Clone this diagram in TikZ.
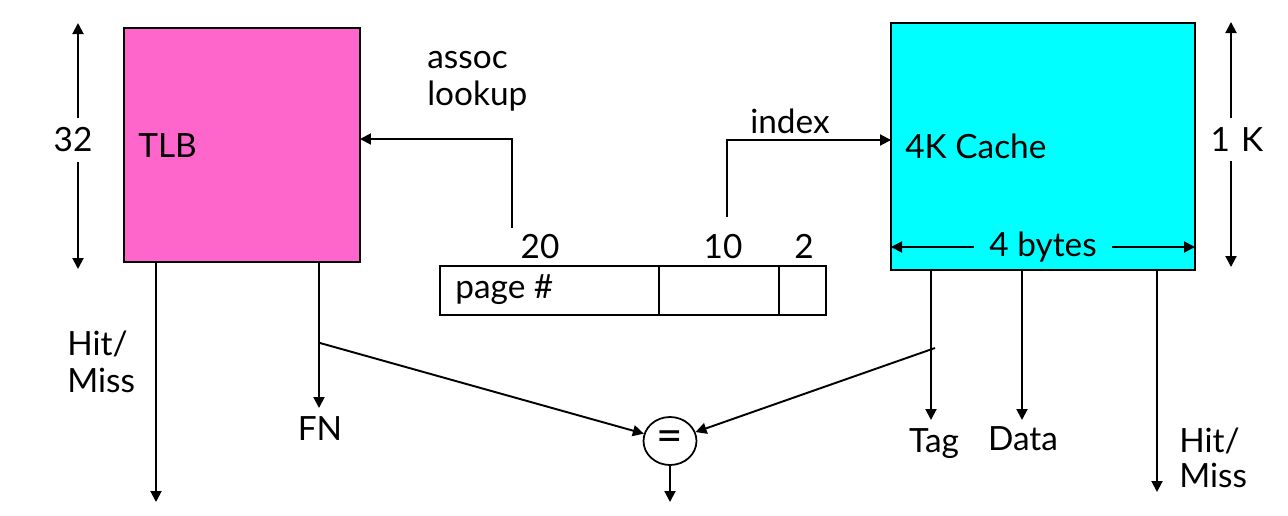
\documentclass[tikz,border=0pt]{standalone}
\usepackage{fontspec}
\setmainfont{Lato}
\usetikzlibrary{positioning,arrows.meta,shapes.geometric}

\definecolor{tlbpink}{HTML}{FF66CC}
\definecolor{cachecyan}{HTML}{00FFFF}

\begin{document}
\begin{tikzpicture}[
  x=0.02cm, y=-0.02cm,
  txt/.style={font=\fontsize{19}{23}\selectfont, inner sep=0pt},
  blk/.style={draw, rectangle, line width=1pt, inner sep=0pt, outer sep=0pt},
  wire/.style={line width=1.1pt},
  arr/.style={wire, -{Triangle[length=0.22cm, width=0.22cm]}},
  dimarr/.style={wire, {Triangle[length=0.22cm, width=0.22cm]}-{Triangle[length=0.22cm, width=0.22cm]}}
]
\useasboundingbox (0,0) rectangle (1288,515);

% TLB and its size
\node[blk, fill=tlbpink, minimum width=4.72cm, minimum height=4.68cm] (tlb) at (242,145) {};
\node[txt, anchor=base west] (tlbname) at (138,157) {TLB};
\coordinate (tlbtop) at (78,23);
\coordinate (tlbbot) at (78,269);
\draw[dimarr] (tlbtop) -- (tlbbot)
  node[txt, midway, fill=white, inner xsep=0.1cm, inner ysep=0.2cm, xshift=-0.1cm, yshift=0.12cm] (tlbsize) {32};

% virtual address
\node[blk, minimum width=4.38cm, minimum height=0.98cm] (pgnum) at (549.5,290.5) {};
\node[blk, minimum width=2.4cm, minimum height=0.98cm, right=0pt of pgnum] (idxbits) {};
\node[blk, minimum width=0.94cm, minimum height=0.98cm, right=0pt of idxbits] (offbits) {};
\node[txt, anchor=base west] (pgtxt) at (455,298) {page \#};
\node[txt, anchor=base] (w20) at (540,258) {20};
\node[txt, anchor=base] (w10) at (723,258) {10};
\node[txt, anchor=base] (w2) at (804,258) {2};

% lookup into TLB
\coordinate (lkfoot) at (512,228);
\coordinate (lkbend) at (512,139);
\draw[arr] (lkfoot) -- (lkbend) -- (tlb.east |- lkbend);
\node[txt, anchor=base west] (assoc) at (427,68) {assoc};
\node[txt, anchor=base west] (lookup) at (427,105) {lookup};

% cache and its size
\node[blk, fill=cachecyan, minimum width=6.08cm, minimum height=4.94cm] (cache) at (1043,146.5) {};
\node[txt, anchor=base west] (cachename) at (905,158) {4K Cache};
\coordinate (bytesl) at (891,247);
\coordinate (bytesr) at (1195,247);
\draw[dimarr] (bytesl) -- (bytesr)
  node[txt, midway, fill=cachecyan, inner xsep=0.3cm, inner ysep=0.05cm] (cachewidth) {4 bytes};
\coordinate (cachetop) at (1231,22);
\coordinate (cachebot) at (1231,267);
\draw[dimarr] (cachetop) -- (cachebot)
  node[txt, midway, fill=white, inner xsep=0.1cm, inner ysep=0.2cm, xshift=0.12cm, yshift=0.1cm] (cachesize) {1\,\,K};

% index into cache
\coordinate (ixfoot) at (727,217);
\coordinate (ixbend) at (727,140);
\draw[arr] (ixfoot) -- (ixbend) -- (cache.west |- ixbend);
\node[txt, anchor=base] (ixtxt) at (790,133) {index};

% TLB outputs
\coordinate (tlbhit) at (156,502);
\draw[arr] (tlb.south -| tlbhit) -- (tlbhit);
\node[txt, anchor=base west] (hitA) at (67,355) {Hit/};
\node[txt, anchor=base west] (missA) at (67,392) {Miss};
\coordinate (fnend) at (319,408);
\draw[arr] (tlb.south -| fnend) -- (fnend);
\node[txt, anchor=base] (fntxt) at (320,440) {FN};

% compare
\node[draw, ellipse, line width=1pt, minimum width=1.06cm, minimum height=0.96cm, inner sep=0pt,
  font=\fontsize{26}{26}\selectfont] (cmp) at (670,441) {=};
\coordinate (fntap) at (320,343);
\coordinate (tagtap) at (935,348);
\draw[arr] (fntap) -- (cmp);
\draw[arr] (tagtap) -- (cmp);
\coordinate (cmpout) at (670,502);
\draw[arr] (cmp) -- (cmpout);

% cache outputs
\coordinate (tagend) at (931,420);
\draw[arr] (cache.south -| tagend) -- (tagend);
\node[txt, anchor=base] (tagtxt) at (934,452) {Tag};
\coordinate (dataend) at (1022,420);
\draw[arr] (cache.south -| dataend) -- (dataend);
\node[txt, anchor=base] (datatxt) at (1023,450) {Data};
\coordinate (cachehit) at (1157,492);
\draw[arr] (cache.south -| cachehit) -- (cachehit);
\node[txt, anchor=base west] (hitB) at (1179,452) {Hit/};
\node[txt, anchor=base west] (missB) at (1179,487) {Miss};

\end{tikzpicture}
\end{document}
